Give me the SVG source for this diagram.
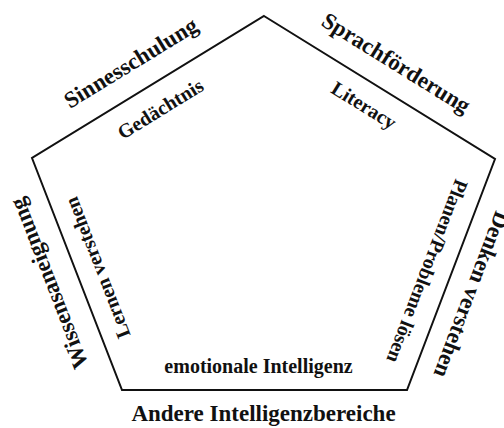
<svg xmlns="http://www.w3.org/2000/svg" width="504" height="428" viewBox="0 0 504 428">
<style>
text{font-family:"Liberation Serif","Times New Roman",serif;font-weight:bold;fill:#111;text-anchor:middle}
.outer{font-size:23px}
.inner{font-size:20px}
.edge{fill:none;stroke:#111;stroke-width:2;stroke-linejoin:miter}
</style>
<rect width="504" height="428" fill="#fff"/>
<g id="connectors">
<polygon class="edge" points="264,16 495,159 407,390 122,390 32,158"/>
</g>
<g id="sinnesschulung"><text class="outer" transform="translate(134.8,69.3) rotate(-31.5)">Sinnesschulung</text></g>
<g id="gedaechtnis"><text class="inner" transform="translate(163.9,114.8) rotate(-31.5)">Gedächtnis</text></g>
<g id="sprachfoerderung"><text class="outer" transform="translate(392.1,69.4) rotate(31.8)">Sprachförderung</text></g>
<g id="literacy"><text class="inner" transform="translate(360.4,110.9) rotate(31.8)">Literacy</text></g>
<g id="wissensaneignung"><text class="outer" transform="translate(56,280.6) rotate(-111.2)">Wissensaneignung</text></g>
<g id="lernen"><text class="inner" transform="translate(103.7,265.3) rotate(-111.2)">Lernen verstehen</text></g>
<g id="denken"><text class="outer" transform="translate(464.7,291.9) rotate(110.9)">Denken verstehen</text></g>
<g id="planen"><text class="inner" transform="translate(421.1,268.8) rotate(110.9)">Planen/Probleme lösen</text></g>
<g id="emotionale"><text class="inner" x="258.5" y="373">emotionale Intelligenz</text></g>
<g id="andere"><text class="outer" x="263.5" y="421">Andere Intelligenzbereiche</text></g>
</svg>
